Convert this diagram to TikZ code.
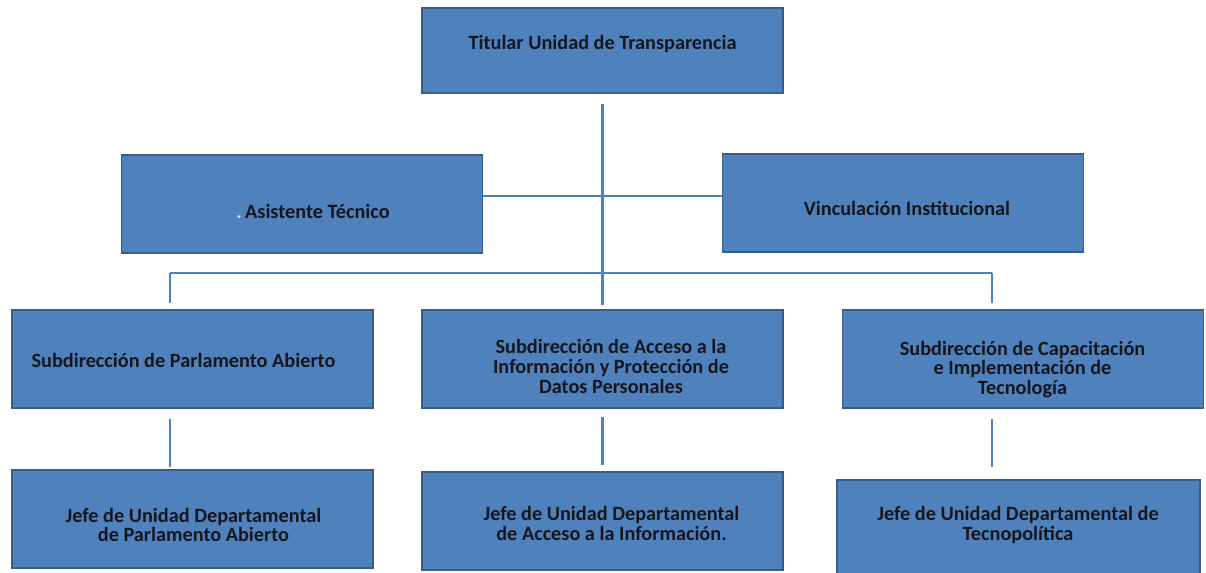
\documentclass[tikz,border=0pt]{standalone}
\usepackage{fontspec}
\setmainfont{Carlito}
\usepackage{tikz}
\usepackage{xcolor}

\begin{document}
\begin{tikzpicture}[x=0.75pt,y=0.75pt,yscale=-1,xscale=1,
  unitbox/.style={draw={rgb, 255:red, 56; green, 93; blue, 138 },line width=1.2pt,
    fill={rgb, 255:red, 79; green, 129; blue, 189 },minimum width=270.75pt,minimum height=73.5pt},
  unittext/.style={align=center,inner sep=0.75pt,font=\bfseries\fontsize{15.2}{14.7}\selectfont,
    text={rgb, 255:red, 22; green, 22; blue, 30 }},
  link/.style={draw={rgb, 255:red, 79; green, 129; blue, 189 },line width=2pt}]
\clip (0,0) rectangle (1206,573);

%Shape: Rectangle [top]
\node[unitbox,minimum height=63.75pt] (top) at (602.5,50.5) {};
%Shape: Rectangle [staff]
\node[unitbox] (asis) at (302,204) {};
\node[unitbox] (vinc) at (903,203) {};
%Shape: Rectangle [subdirecciones]
\node[unitbox] (subA) at (192.5,359) {};
\node[unitbox] (subB) at (602.5,359) {};
\node[unitbox] (subC) at (1023,359) {};
%Shape: Rectangle [jefaturas]
\node[unitbox] (jefeA) at (192.5,519) {};
\node[unitbox] (jefeB) at (602.5,521) {};
\node[unitbox,minimum width=272.25pt] (jefeC) at (1018.5,529) {};

% bus coordinates
\coordinate (midRow) at (602,196);
\coordinate (busL) at (170,273);
\coordinate (busR) at (992,273);

%Straight Lines
\draw[link,shorten <=7.5pt,shorten >=3pt] (top.south) -- (subB.north);
\draw[link] (midRow -| asis.east) -- (midRow -| vinc.west);
\draw[link] (busL) -- (busR);
\draw[link,shorten >=4.5pt] (busL) -- (busL |- subA.north);
\draw[link,shorten >=4.5pt] (busR) -- (busR |- subC.north);
%Straight Lines [lower]
\draw[link,shorten <=7.5pt,shorten >=1.5pt] (busL |- subA.south) -- (busL |- jefeA.north);
\draw[link,shorten <=6pt,shorten >=4.5pt] (subB.south) -- (jefeB.north);
\draw[link,shorten <=7.5pt,shorten >=9pt] (busR |- subC.south) -- (busR |- jefeC.north);

% Text Node
\node[unittext] (topT) at (602.5,44) {Titular Unidad de Transparencia};
% Text Node
\node[unittext] (asisT) at (313,211) {{\color{white!75!gray}.}\,Asistente Técnico};
% Text Node
\node[unittext] (vincT) at (907,208) {Vinculación Institucional};
% Text Node
\node[unittext] (subAT) at (183.5,360) {Subdirección de Parlamento Abierto};
% Text Node
\node[unittext] (subBT) at (611,366.5) {Subdirección de Acceso a la\\Información y Protección de\\Datos Personales};
% Text Node
\node[unittext] (subCT) at (1022.5,369.5) {Subdirección de Capacitación\\e Implementación de\\Tecnología};
% Text Node
\node[unittext] (jefeAT) at (193.5,525) {Jefe de Unidad Departamental\\de Parlamento Abierto};
% Text Node
\node[unittext] (jefeBT) at (611.5,523.5) {Jefe de Unidad Departamental\\de Acceso a la Información.};
% Text Node
\node[unittext] (jefeCT) at (1018,525) {Jefe de Unidad Departamental de\\Tecnopolítica};

\end{tikzpicture}
\end{document}
